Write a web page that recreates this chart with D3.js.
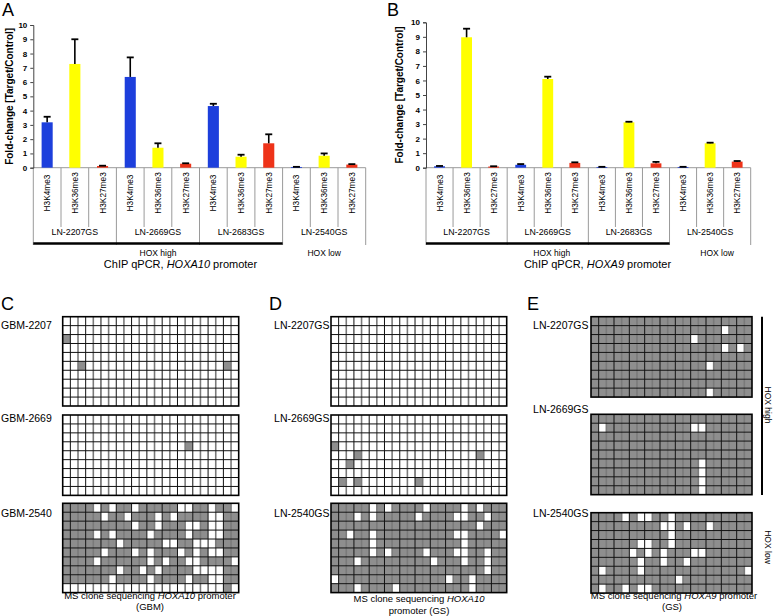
<!DOCTYPE html>
<html><head><meta charset="utf-8">
<script src="https://cdn.jsdelivr.net/npm/d3@7"></script>
<style>
body{margin:0;background:#fff}
svg{display:block}
text{font-family:"Liberation Sans",Arial,Helvetica,sans-serif;fill:#000}
</style>
</head><body>
<svg id="fig" width="774" height="616"></svg>
<script>
// ---------- DATA ----------
const marks = ["H3K4me3", "H3K36me3", "H3K27me3"];
const cellLines = ["LN-2207GS", "LN-2669GS", "LN-2683GS", "LN-2540GS"];
const yTicks = [0, 1, 2, 3, 4, 5, 6, 7, 8, 9, 10];
const hoxa10Values = [3.18, 7.27, 0.12, 6.36, 1.40, 0.28, 4.32, 0.77, 1.71, 0.05, 0.84, 0.22];
const hoxa10ErrTop = [3.57, 9.00, 0.14, 7.73, 1.71, 0.31, 4.48, 0.91, 2.34, 0.06, 1.00, 0.25];
const hoxa9Values = [0.10, 8.97, 0.08, 0.20, 6.10, 0.33, 0.05, 3.12, 0.30, 0.05, 1.68, 0.42];
const hoxa9ErrTop = [0.12, 9.56, 0.10, 0.25, 6.26, 0.37, 0.06, 3.16, 0.40, 0.06, 1.72, 0.46];
const markColors = ["#1d3fdc", "#ffff00", "#ee3319"];
const groupLabels = ["HOX high", "HOX low"];

// methylation grids: 1 = methylated (grey), 0 = unmethylated (white)
const gbm2207 = [
  "00000000000000000000000","00000000000000000000000","10000000000000000000000",
  "00000000000000000000000","00000000000000000000000","00100000000000000000010",
  "00000000000000000000000","00000000000000000000000","00000000000000000000000",
  "00000000000000000000000"];
const gbm2669 = [
  "00000000000000000000000","00000000000000000000000","00000000000000000000000",
  "00000000000000001000000","00000000000000000000000","00000000000000000000000",
  "00000000000000000000000","00000000000000000000000","00000000000000000000000"];
const gbm2540 = [
  "11110101101111100110110","11111011011101011110011","11111111101101110010011",
  "11110101111011110110011","11111110111110011000111","11111011101011101010011",
  "11110111111010110011110","11111110110101111000011","11111101111011110110011",
  "00000000000000000000010"];
const ln2207 = [
  "00000000000000000000000","00000000000000000000000","00000000000000000000000",
  "00000000000000000000000","00000000000000000000000","00000000000000000000000",
  "00000000000000000000000","00000000000000000000000","00000000000000000000000",
  "00000000000000000000000"];
const ln2669 = [
  "00000000000000000000000","00000000000000000000000","00000000000000000000000",
  "10000000000000000000000","00010000000000000001000","00100000000000000000000",
  "00000000000000000000000","01010000000100000000000","00000000000000000000000"];
const ln2540a10 = [
  "11111010111101111010111","11101011111011110011011","11111111111111111110111",
  "11011011111111110011110","11111011111111111011111","11111010111101110011011",
  "11101111111110111011011","11111111111111111111011","01111111111111101101111",
  "11101111011111111101111"];
const ln2207a9 = [
  "111111111111111111111","111111111111111110111","111111111111101111111",
  "111111111111111110101","111111111111111111111","111111111111111011111",
  "111111111111111111111","111111111111111111111","111111111111111011111"];
const ln2669a9 = [
  "111111111111111111111","101111111111100111111","111111111111111111111",
  "111111111111111111111","111111111111111111111","111111111111110111111",
  "111111111111110111111","111111111111110111111","111111111111110111111"];
const ln2540a9 = [
  "111101001101111111111","111111111001011011111","111111111101111111111",
  "111111001101111111111","111110101011100111111","111111011011011111111",
  "101111011111111111110","111111111110111111111","101101001111111111111"];

// ---------- DRAWING ----------
const svg = d3.select("#fig");
const FONT = '"Liberation Sans",Arial,Helvetica,sans-serif';

function barPanel(o) {
  const g = svg.append("g");
  const n = cellLines.length * marks.length;
  const x = d3.scaleBand().domain(d3.range(n)).range([o.x0, o.x1]).paddingInner(0.6).paddingOuter(0.3);
  const step = x.step();
  const y = d3.scaleLinear().domain([0, 10]).range([o.yBase, o.yTop]);
  const data = d3.range(n).map(i => ({i, v: o.values[i], e: o.errTop[i], m: i % 3, grp: Math.floor(i / 3)}));

  g.selectAll("line.sep").data(d3.range(n + 1)).join("line")
    .attr("x1", i => o.x0 + i * step).attr("x2", i => o.x0 + i * step)
    .attr("y1", o.yBase).attr("y2", i => (i % 3 === 0) ? 245 : 227)
    .attr("stroke", "#9a9a9a").attr("stroke-width", 1);
  g.append("line").attr("x1", o.x0).attr("x2", o.x1).attr("y1", o.yBase).attr("y2", o.yBase)
    .attr("stroke", "#9a9a9a").attr("stroke-width", 1);

  g.selectAll("rect.bar").data(data).join("rect")
    .attr("x", d => x(d.i)).attr("width", x.bandwidth())
    .attr("y", d => y(d.v)).attr("height", d => Math.max(0.8, o.yBase - y(d.v)))
    .attr("fill", d => markColors[d.m]);
  g.selectAll("line.err").data(data).join("line")
    .attr("x1", d => x(d.i) + x.bandwidth() / 2).attr("x2", d => x(d.i) + x.bandwidth() / 2)
    .attr("y1", d => y(d.v)).attr("y2", d => y(d.e))
    .attr("stroke", "#000").attr("stroke-width", 1.6);
  g.selectAll("line.cap").data(data).join("line")
    .attr("x1", d => x(d.i) + x.bandwidth() / 2 - 3.5).attr("x2", d => x(d.i) + x.bandwidth() / 2 + 3.5)
    .attr("y1", d => y(d.e)).attr("y2", d => y(d.e))
    .attr("stroke", "#000").attr("stroke-width", 1.8);

  const ax = g.append("g").attr("transform", `translate(${o.x0},0)`)
    .call(d3.axisLeft(y).tickValues(yTicks).tickSize(3).tickPadding(3).tickFormat(d3.format("d")));
  ax.select(".domain").attr("stroke", "#444");
  ax.selectAll(".tick line").attr("stroke", "#444");
  ax.selectAll("text").attr("font-family", FONT).attr("font-size", 8).attr("font-weight", "bold").attr("fill", "#111");
  g.append("text").attr("transform", `translate(${o.ylabX},${(o.yBase + o.yTop) / 2}) rotate(-90)`)
    .attr("text-anchor", "middle").attr("font-size", 10).attr("font-weight", "bold")
    .text("Fold-change [Target/Control]");

  g.selectAll("text.mk").data(data).join("text")
    .attr("transform", d => `translate(${x(d.i) + x.bandwidth() / 2 + 3},193) rotate(-90)`)
    .attr("text-anchor", "middle").attr("font-size", 8.3).text(d => marks[d.m]);
  g.selectAll("text.cl").data(cellLines).join("text")
    .attr("x", (d, i) => o.x0 + (i * 3 + 1.5) * step).attr("y", 235)
    .attr("text-anchor", "middle").attr("font-size", 8.8).text(d => d);
  g.append("line").attr("x1", o.x0).attr("x2", o.x0 + 9 * step).attr("y1", 243.5).attr("y2", 243.5)
    .attr("stroke", "#000").attr("stroke-width", 2.6);
  g.append("text").attr("x", o.x0 + 4.5 * step + o.hiDx).attr("y", 255.7).attr("text-anchor", "middle")
    .attr("font-size", 8.5).text(groupLabels[0]);
  g.append("text").attr("x", o.x0 + 10.5 * step + o.loDx).attr("y", 255.7).attr("text-anchor", "middle")
    .attr("font-size", 8.5).text(groupLabels[1]);
  const t = g.append("text").attr("x", o.titleX).attr("y", 268).attr("text-anchor", "middle").attr("font-size", 11);
  t.append("tspan").text("ChIP qPCR, ");
  t.append("tspan").attr("font-style", "italic").text(o.gene);
  t.append("tspan").text(" promoter");
  svg.append("text").attr("x", o.letterX).attr("y", 16).attr("font-size", 18).text(o.letter);
}

barPanel({x0: 33.3, x1: 365.7, yTop: 25, yBase: 167.7, values: hoxa10Values, errTop: hoxa10ErrTop,
  ylabX: 13, gene: "HOXA10", titleX: 180.5, letter: "A", letterX: 2, hiDx: 0, loDx: 0});
barPanel({x0: 426, x1: 750.7, yTop: 22.3, yBase: 167.7, values: hoxa9Values, errTop: hoxa9ErrTop,
  ylabX: 403, gene: "HOXA9", titleX: 597.5, letter: "B", letterX: 387, hiDx: 4, loDx: 7});

const ROWH = 8.93;
function grid(o, rows) {
  const g = svg.append("g");
  const nR = rows.length, nC = rows[0].length;
  const h = nR * ROWH;
  const cx = d3.scaleBand().domain(d3.range(nC)).range([o.x, o.x + o.w]);
  const ry = d3.scaleBand().domain(d3.range(nR)).range([o.y, o.y + h]);
  const cells = [];
  rows.forEach((r, ri) => r.split("").forEach((c, ci) => cells.push({ri, ci, m: c === "1"})));
  g.selectAll("rect.cell").data(cells).join("rect")
    .attr("x", d => cx(d.ci)).attr("y", d => ry(d.ri))
    .attr("width", cx.bandwidth()).attr("height", ry.bandwidth())
    .attr("fill", d => d.m ? "#8e8e8e" : "#fff");
  g.selectAll("line.v").data(d3.range(1, nC)).join("line")
    .attr("x1", i => cx(i)).attr("x2", i => cx(i)).attr("y1", o.y).attr("y2", o.y + h)
    .attr("stroke", i => i % 2 ? "#111" : "#7a7a7a").attr("stroke-width", i => i % 2 ? 1 : 1.6);
  g.selectAll("line.h").data(d3.range(1, nR)).join("line")
    .attr("x1", o.x).attr("x2", o.x + o.w).attr("y1", i => ry(i)).attr("y2", i => ry(i))
    .attr("stroke", "#111").attr("stroke-width", 1);
  g.append("rect").attr("x", o.x).attr("y", o.y).attr("width", o.w).attr("height", h)
    .attr("fill", "none").attr("stroke", "#000").attr("stroke-width", 1.6);
  g.append("text").attr("x", o.lx).attr("y", o.ly).attr("text-anchor", o.anchor || "start")
    .attr("font-size", 10.5).text(o.label);
}

svg.append("text").attr("x", 1).attr("y", 310).attr("font-size", 18).text("C");
grid({x: 62.7, y: 316.7, w: 176, lx: 1, ly: 328.5, label: "GBM-2207"}, gbm2207);
grid({x: 62.7, y: 415, w: 176, lx: 1, ly: 422, label: "GBM-2669"}, gbm2669);
grid({x: 62.7, y: 503.3, w: 176, lx: 1, ly: 517, label: "GBM-2540"}, gbm2540);
svg.append("text").attr("x", 269).attr("y", 310).attr("font-size", 18).text("D");
grid({x: 331, y: 316.7, w: 175.7, lx: 329.5, ly: 328.5, anchor: "end", label: "LN-2207GS"}, ln2207);
grid({x: 331, y: 415, w: 175.7, lx: 329.5, ly: 422, anchor: "end", label: "LN-2669GS"}, ln2669);
grid({x: 331, y: 503.3, w: 175.7, lx: 329.5, ly: 517, anchor: "end", label: "LN-2540GS"}, ln2540a10);
svg.append("text").attr("x", 527).attr("y", 310).attr("font-size", 18).text("E");
grid({x: 591, y: 316.7, w: 161, lx: 588.5, ly: 328.5, anchor: "end", label: "LN-2207GS"}, ln2207a9);
grid({x: 591, y: 414.3, w: 161, lx: 588.5, ly: 413, anchor: "end", label: "LN-2669GS"}, ln2669a9);
grid({x: 591, y: 512.7, w: 161, lx: 588.5, ly: 517, anchor: "end", label: "LN-2540GS"}, ln2540a9);

svg.append("line").attr("x1", 762).attr("x2", 762).attr("y1", 316.7).attr("y2", 495)
  .attr("stroke", "#000").attr("stroke-width", 2);
svg.append("text").attr("transform", "translate(765,405) rotate(90)").attr("text-anchor", "middle")
  .attr("font-size", 8.5).text(groupLabels[0]);
svg.append("text").attr("transform", "translate(765,547) rotate(90)").attr("text-anchor", "middle")
  .attr("font-size", 8.5).text(groupLabels[1]);

function footer(x, y, parts, fs) {
  const t = svg.append("text").attr("x", x).attr("y", y).attr("text-anchor", "middle").attr("font-size", fs || 9.5);
  parts.forEach(p => t.append("tspan").attr("font-style", p[1] ? "italic" : "normal").text(p[0]));
}
footer(150, 598.5, [["MS clone sequencing ", 0], ["HOXA10", 1], [" promoter", 0]], 9.5);
footer(150, 610, [["(GBM)", 0]], 9.5);
footer(419, 602, [["MS clone sequencing ", 0], ["HOXA10", 1]]);
footer(419, 613.5, [["promoter (GS)", 0]]);
footer(674, 598.5, [["MS clone sequencing   ", 0], ["HOXA9", 1], [" promoter", 0]]);
footer(672, 610, [["(GS)", 0]]);
</script>
</body></html>
